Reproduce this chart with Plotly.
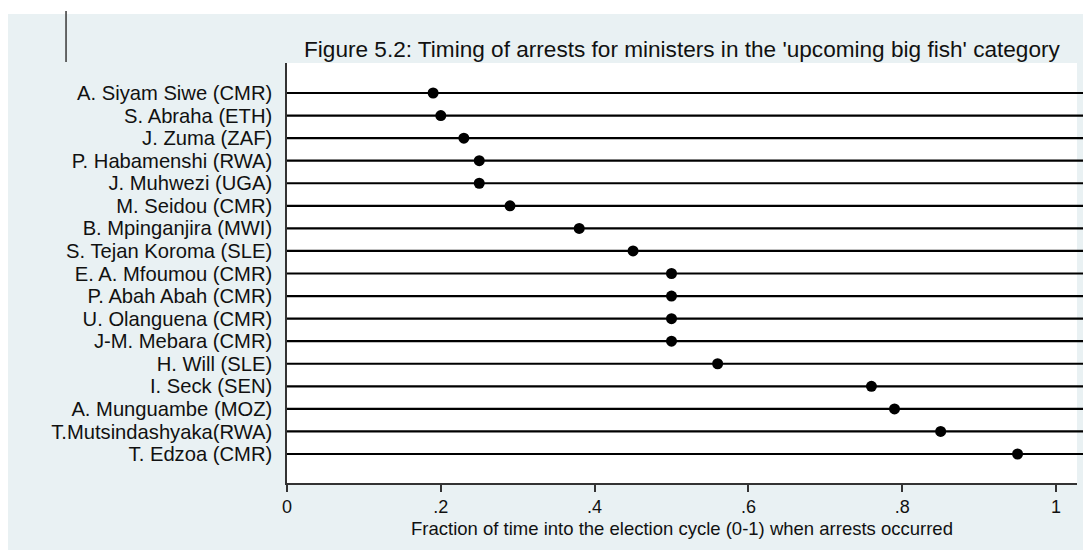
import plotly.graph_objects as go

names = [
    "A. Siyam Siwe (CMR)", "S. Abraha (ETH)", "J. Zuma (ZAF)", "P. Habamenshi (RWA)",
    "J. Muhwezi (UGA)", "M. Seidou (CMR)", "B. Mpinganjira (MWI)", "S. Tejan Koroma (SLE)",
    "E. A. Mfoumou (CMR)", "P. Abah Abah (CMR)", "U. Olanguena (CMR)", "J-M. Mebara (CMR)",
    "H. Will (SLE)", "I. Seck (SEN)", "A. Munguambe (MOZ)", "T.Mutsindashyaka(RWA)",
    "T. Edzoa (CMR)",
]
timing = [0.19, 0.20, 0.23, 0.25, 0.25, 0.29, 0.38, 0.45, 0.50, 0.50, 0.50, 0.50,
          0.56, 0.76, 0.79, 0.85, 0.95]
x_ticks = [0, 0.2, 0.4, 0.6, 0.8, 1]
x_ticklabels = ["0", ".2", ".4", ".6", ".8", "1"]

title = "Figure 5.2: Timing of arrests for ministers in the 'upcoming big fish' category"
x_title = "Fraction of time into the election cycle (0-1) when arrests occurred"

rows = list(range(len(names)))
BG = "#E9F1F3"
FONT = "Liberation Sans, Arial, sans-serif"

fig = go.Figure()
fig.add_trace(go.Scatter(
    x=timing, y=rows, mode="markers",
    marker=dict(color="black", size=11),
    cliponaxis=False, showlegend=False,
))

shapes = [
    # white strip at the top edge of the image
    dict(type="rect", xref="paper", yref="paper", x0=-0.4, x1=1.1, y0=1.1167, y1=1.3,
         fillcolor="white", line=dict(width=0), layer="above"),
    # small vertical stroke top-left
    dict(type="line", xref="paper", yref="paper", x0=-0.2797, x1=-0.2797, y0=1.0024, y1=1.1238,
         line=dict(color="#444444", width=1.6), layer="above"),
]
for r in rows:
    shapes.append(dict(type="line", xref="paper", yref="y", x0=0, x1=1.03, y0=r, y1=r,
                       line=dict(color="black", width=2.2), layer="below"))

fig.update_layout(
    width=1083, height=542,
    margin=dict(l=279, r=14, t=55, b=67, pad=0),
    paper_bgcolor=BG, plot_bgcolor="white",
    font=dict(family=FONT, color="#111111"),
    shapes=shapes,
    showlegend=False,
    annotations=[dict(text=title, xref="paper", yref="paper", x=0.9823, y=1.031,
                      xanchor="right", yanchor="middle", showarrow=False,
                      font=dict(size=22.6, family=FONT, color="#111111"))],
)
fig.update_xaxes(
    range=[0, 1.0273], tickvals=x_ticks, ticktext=x_ticklabels,
    showgrid=False, zeroline=False,
    showline=True, linecolor="#333333", linewidth=1.5,
    ticks="outside", ticklen=7, tickwidth=1.5, tickcolor="#333333",
    tickfont=dict(size=18, family=FONT),
    title=dict(text=x_title, font=dict(size=18.5, family=FONT), standoff=6),
)
fig.update_yaxes(
    range=[len(names) - 1 + 1.285, -1.33], tickvals=rows, ticktext=names,
    showgrid=False, zeroline=False,
    showline=True, linecolor="#333333", linewidth=1.5,
    ticks="", ticklabelstandoff=9,
    tickfont=dict(size=20.2, family=FONT),
)

fig.write_html("out.html")
